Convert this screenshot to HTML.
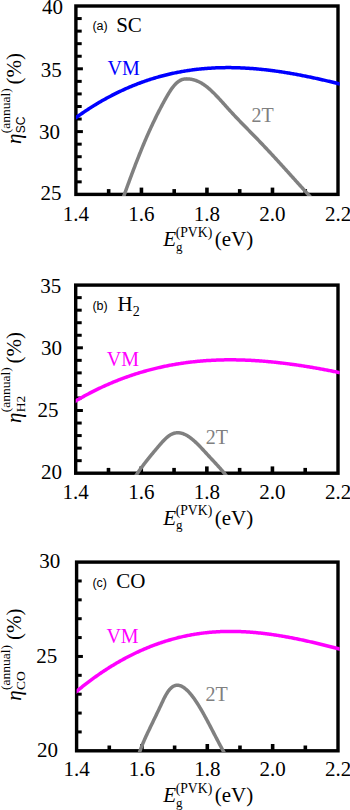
<!DOCTYPE html>
<html><head><meta charset="utf-8"><style>
html,body{margin:0;padding:0;background:#fff;width:350px;height:810px;overflow:hidden;}
svg{display:block;font-family:"Liberation Serif", serif;}
</style></head><body>
<svg width="350" height="810" viewBox="0 0 350 810">
<clipPath id="clipa"><rect x="75.90" y="4.30" width="263.80" height="191.80"/></clipPath>
<line x1="75.90" y1="181.84" x2="81.70" y2="181.84" stroke="#000" stroke-width="3.0"/>
<line x1="75.90" y1="169.28" x2="81.70" y2="169.28" stroke="#000" stroke-width="3.0"/>
<line x1="75.90" y1="156.72" x2="81.70" y2="156.72" stroke="#000" stroke-width="3.0"/>
<line x1="75.90" y1="144.16" x2="81.70" y2="144.16" stroke="#000" stroke-width="3.0"/>
<line x1="75.90" y1="131.60" x2="82.90" y2="131.60" stroke="#000" stroke-width="3.0"/>
<line x1="75.90" y1="119.04" x2="81.70" y2="119.04" stroke="#000" stroke-width="3.0"/>
<line x1="75.90" y1="106.48" x2="81.70" y2="106.48" stroke="#000" stroke-width="3.0"/>
<line x1="75.90" y1="93.92" x2="81.70" y2="93.92" stroke="#000" stroke-width="3.0"/>
<line x1="75.90" y1="81.36" x2="81.70" y2="81.36" stroke="#000" stroke-width="3.0"/>
<line x1="75.90" y1="68.80" x2="82.90" y2="68.80" stroke="#000" stroke-width="3.0"/>
<line x1="75.90" y1="56.24" x2="81.70" y2="56.24" stroke="#000" stroke-width="3.0"/>
<line x1="75.90" y1="43.68" x2="81.70" y2="43.68" stroke="#000" stroke-width="3.0"/>
<line x1="75.90" y1="31.12" x2="81.70" y2="31.12" stroke="#000" stroke-width="3.0"/>
<line x1="75.90" y1="18.56" x2="81.70" y2="18.56" stroke="#000" stroke-width="3.0"/>
<line x1="108.66" y1="194.40" x2="108.66" y2="189.10" stroke="#000" stroke-width="3.6"/>
<line x1="141.43" y1="194.40" x2="141.43" y2="187.60" stroke="#000" stroke-width="3.6"/>
<line x1="174.19" y1="194.40" x2="174.19" y2="189.10" stroke="#000" stroke-width="3.6"/>
<line x1="206.95" y1="194.40" x2="206.95" y2="187.60" stroke="#000" stroke-width="3.6"/>
<line x1="239.71" y1="194.40" x2="239.71" y2="189.10" stroke="#000" stroke-width="3.6"/>
<line x1="272.48" y1="194.40" x2="272.48" y2="187.60" stroke="#000" stroke-width="3.6"/>
<line x1="305.24" y1="194.40" x2="305.24" y2="189.10" stroke="#000" stroke-width="3.6"/>
<rect x="75.90" y="6.00" width="262.10" height="188.40" fill="none" stroke="#000" stroke-width="3.4"/>
<g clip-path="url(#clipa)" fill="none" stroke-width="3.5" stroke-linejoin="round">
<path d="M73.90,119.14 L74.90,118.41 L75.90,117.69 L76.90,116.97 L77.90,116.25 L78.90,115.54 L79.90,114.84 L80.90,114.14 L81.90,113.45 L82.90,112.77 L83.90,112.09 L84.90,111.42 L85.90,110.75 L86.90,110.09 L87.90,109.43 L88.90,108.78 L89.90,108.14 L90.90,107.50 L91.90,106.87 L92.90,106.24 L93.90,105.62 L94.90,105.01 L95.90,104.40 L96.90,103.80 L97.90,103.20 L98.90,102.61 L99.90,102.02 L100.90,101.44 L101.90,100.86 L102.90,100.29 L103.90,99.73 L104.90,99.17 L105.90,98.62 L106.90,98.07 L107.90,97.53 L108.90,96.99 L109.90,96.46 L110.90,95.93 L111.90,95.41 L112.90,94.90 L113.90,94.39 L114.90,93.89 L115.90,93.39 L116.90,92.89 L117.90,92.41 L118.90,91.92 L119.90,91.45 L120.90,90.97 L121.90,90.51 L122.90,90.05 L123.90,89.59 L124.90,89.14 L125.90,88.69 L126.90,88.25 L127.90,87.82 L128.90,87.39 L129.90,86.96 L130.90,86.54 L131.90,86.13 L132.90,85.72 L133.90,85.31 L134.90,84.91 L135.90,84.52 L136.90,84.13 L137.90,83.74 L138.90,83.36 L139.90,82.99 L140.90,82.62 L141.90,82.26 L142.90,81.90 L143.90,81.54 L144.90,81.19 L145.90,80.85 L146.90,80.51 L147.90,80.17 L148.90,79.84 L149.90,79.52 L150.90,79.19 L151.90,78.88 L152.90,78.57 L153.90,78.26 L154.90,77.96 L155.90,77.66 L156.90,77.37 L157.90,77.08 L158.90,76.80 L159.90,76.52 L160.90,76.25 L161.90,75.98 L162.90,75.71 L163.90,75.46 L164.90,75.20 L165.90,74.95 L166.90,74.70 L167.90,74.46 L168.90,74.22 L169.90,73.99 L170.90,73.76 L171.90,73.54 L172.90,73.32 L173.90,73.11 L174.90,72.90 L175.90,72.69 L176.90,72.49 L177.90,72.29 L178.90,72.10 L179.90,71.91 L180.90,71.73 L181.90,71.55 L182.90,71.37 L183.90,71.20 L184.90,71.03 L185.90,70.87 L186.90,70.71 L187.90,70.56 L188.90,70.41 L189.90,70.26 L190.90,70.12 L191.90,69.98 L192.90,69.85 L193.90,69.72 L194.90,69.59 L195.90,69.47 L196.90,69.36 L197.90,69.24 L198.90,69.13 L199.90,69.03 L200.90,68.93 L201.90,68.83 L202.90,68.74 L203.90,68.65 L204.90,68.56 L205.90,68.48 L206.90,68.40 L207.90,68.33 L208.90,68.26 L209.90,68.19 L210.90,68.13 L211.90,68.07 L212.90,68.01 L213.90,67.96 L214.90,67.91 L215.90,67.87 L216.90,67.83 L217.90,67.79 L218.90,67.76 L219.90,67.73 L220.90,67.70 L221.90,67.68 L222.90,67.66 L223.90,67.64 L224.90,67.63 L225.90,67.62 L226.90,67.61 L227.90,67.61 L228.90,67.61 L229.90,67.62 L230.90,67.62 L231.90,67.63 L232.90,67.65 L233.90,67.67 L234.90,67.69 L235.90,67.71 L236.90,67.74 L237.90,67.77 L238.90,67.80 L239.90,67.84 L240.90,67.88 L241.90,67.92 L242.90,67.97 L243.90,68.02 L244.90,68.07 L245.90,68.13 L246.90,68.19 L247.90,68.25 L248.90,68.31 L249.90,68.38 L250.90,68.45 L251.90,68.52 L252.90,68.60 L253.90,68.68 L254.90,68.76 L255.90,68.85 L256.90,68.93 L257.90,69.02 L258.90,69.12 L259.90,69.21 L260.90,69.31 L261.90,69.41 L262.90,69.52 L263.90,69.62 L264.90,69.73 L265.90,69.85 L266.90,69.96 L267.90,70.08 L268.90,70.20 L269.90,70.32 L270.90,70.44 L271.90,70.57 L272.90,70.70 L273.90,70.83 L274.90,70.97 L275.90,71.11 L276.90,71.25 L277.90,71.39 L278.90,71.53 L279.90,71.68 L280.90,71.83 L281.90,71.98 L282.90,72.13 L283.90,72.29 L284.90,72.45 L285.90,72.61 L286.90,72.77 L287.90,72.94 L288.90,73.10 L289.90,73.27 L290.90,73.44 L291.90,73.62 L292.90,73.79 L293.90,73.97 L294.90,74.15 L295.90,74.33 L296.90,74.52 L297.90,74.70 L298.90,74.89 L299.90,75.08 L300.90,75.27 L301.90,75.46 L302.90,75.66 L303.90,75.86 L304.90,76.06 L305.90,76.26 L306.90,76.46 L307.90,76.66 L308.90,76.87 L309.90,77.08 L310.90,77.29 L311.90,77.50 L312.90,77.71 L313.90,77.93 L314.90,78.14 L315.90,78.36 L316.90,78.58 L317.90,78.80 L318.90,79.02 L319.90,79.25 L320.90,79.48 L321.90,79.70 L322.90,79.93 L323.90,80.16 L324.90,80.39 L325.90,80.63 L326.90,80.86 L327.90,81.10 L328.90,81.33 L329.90,81.57 L330.90,81.81 L331.90,82.05 L332.90,82.30 L333.90,82.54 L334.90,82.78 L335.90,83.03 L336.90,83.28 L337.90,83.53 L338.90,83.78 L339.90,84.03 L340.90,84.28 L341.00,84.30" stroke="#0000ff"/>
<path d="M122.30,200.28 L122.80,198.88 L123.30,197.48 L123.80,196.08 L124.30,194.68 L124.80,193.29 L125.30,191.91 L125.80,190.52 L126.30,189.14 L126.80,187.76 L127.30,186.39 L127.80,185.02 L128.30,183.65 L128.80,182.29 L129.30,180.93 L129.80,179.57 L130.30,178.22 L130.80,176.88 L131.30,175.54 L131.80,174.20 L132.30,172.87 L132.80,171.54 L133.30,170.22 L133.80,168.90 L134.30,167.59 L134.80,166.28 L135.30,164.98 L135.80,163.68 L136.30,162.39 L136.80,161.10 L137.30,159.83 L137.80,158.55 L138.30,157.29 L138.80,156.02 L139.30,154.77 L139.80,153.52 L140.30,152.28 L140.80,151.04 L141.30,149.81 L141.80,148.59 L142.30,147.38 L142.80,146.17 L143.30,144.97 L143.80,143.78 L144.30,142.59 L144.80,141.41 L145.30,140.24 L145.80,139.08 L146.30,137.92 L146.80,136.77 L147.30,135.63 L147.80,134.50 L148.30,133.38 L148.80,132.26 L149.30,131.15 L149.80,130.04 L150.30,128.95 L150.80,127.86 L151.30,126.78 L151.80,125.70 L152.30,124.64 L152.80,123.58 L153.30,122.52 L153.80,121.48 L154.30,120.44 L154.80,119.40 L155.30,118.38 L155.80,117.36 L156.30,116.34 L156.80,115.34 L157.30,114.34 L157.80,113.35 L158.30,112.36 L158.80,111.38 L159.30,110.41 L159.80,109.44 L160.30,108.48 L160.80,107.52 L161.30,106.57 L161.80,105.63 L162.30,104.69 L162.80,103.76 L163.30,102.84 L163.80,101.92 L164.30,101.01 L164.80,100.10 L165.30,99.20 L165.80,98.31 L166.30,97.42 L166.80,96.55 L167.30,95.68 L167.80,94.83 L168.30,93.99 L168.80,93.16 L169.30,92.36 L169.80,91.56 L170.30,90.79 L170.80,90.04 L171.30,89.30 L171.80,88.59 L172.30,87.90 L172.80,87.24 L173.30,86.60 L173.80,85.99 L174.30,85.40 L174.80,84.84 L175.30,84.30 L175.80,83.79 L176.30,83.31 L176.80,82.85 L177.30,82.41 L177.80,82.00 L178.30,81.62 L178.80,81.27 L179.30,80.94 L179.80,80.63 L180.30,80.36 L180.80,80.11 L181.30,79.88 L181.80,79.68 L182.30,79.51 L182.80,79.36 L183.30,79.24 L183.80,79.13 L184.30,79.05 L184.80,78.98 L185.30,78.93 L185.80,78.90 L186.30,78.88 L186.80,78.87 L187.30,78.88 L187.80,78.90 L188.30,78.93 L188.80,78.96 L189.30,79.01 L189.80,79.07 L190.30,79.13 L190.80,79.21 L191.30,79.29 L191.80,79.39 L192.30,79.49 L192.80,79.61 L193.30,79.73 L193.80,79.86 L194.30,80.01 L194.80,80.16 L195.30,80.32 L195.80,80.50 L196.30,80.68 L196.80,80.87 L197.30,81.08 L197.80,81.29 L198.30,81.51 L198.80,81.74 L199.30,81.99 L199.80,82.24 L200.30,82.50 L200.80,82.77 L201.30,83.05 L201.80,83.35 L202.30,83.65 L202.80,83.96 L203.30,84.28 L203.80,84.62 L204.30,84.96 L204.80,85.31 L205.30,85.68 L205.80,86.05 L206.30,86.43 L206.80,86.82 L207.30,87.22 L207.80,87.63 L208.30,88.05 L208.80,88.47 L209.30,88.91 L209.80,89.35 L210.30,89.80 L210.80,90.25 L211.30,90.71 L211.80,91.18 L212.30,91.66 L212.80,92.14 L213.30,92.63 L213.80,93.12 L214.30,93.62 L214.80,94.13 L215.30,94.64 L215.80,95.15 L216.30,95.67 L216.80,96.19 L217.30,96.72 L217.80,97.25 L218.30,97.79 L218.80,98.33 L219.30,98.87 L219.80,99.41 L220.30,99.96 L220.80,100.51 L221.30,101.06 L221.80,101.61 L222.30,102.16 L222.80,102.72 L223.30,103.28 L223.80,103.83 L224.30,104.39 L224.80,104.95 L225.30,105.51 L225.80,106.07 L226.30,106.63 L226.80,107.19 L227.30,107.74 L227.80,108.30 L228.30,108.85 L228.80,109.41 L229.30,109.96 L229.80,110.51 L230.30,111.06 L230.80,111.60 L231.30,112.14 L231.80,112.69 L232.30,113.23 L232.80,113.76 L233.30,114.30 L233.80,114.84 L234.30,115.37 L234.80,115.90 L235.30,116.43 L235.80,116.96 L236.30,117.49 L236.80,118.01 L237.30,118.54 L237.80,119.06 L238.30,119.58 L238.80,120.11 L239.30,120.63 L239.80,121.15 L240.30,121.66 L240.80,122.18 L241.30,122.70 L241.80,123.21 L242.30,123.73 L242.80,124.24 L243.30,124.76 L243.80,125.27 L244.30,125.78 L244.80,126.29 L245.30,126.80 L245.80,127.32 L246.30,127.83 L246.80,128.34 L247.30,128.85 L247.80,129.36 L248.30,129.87 L248.80,130.38 L249.30,130.89 L249.80,131.40 L250.30,131.91 L250.80,132.42 L251.30,132.93 L251.80,133.44 L252.30,133.95 L252.80,134.46 L253.30,134.97 L253.80,135.48 L254.30,135.99 L254.80,136.50 L255.30,137.02 L255.80,137.53 L256.30,138.05 L256.80,138.56 L257.30,139.08 L257.80,139.59 L258.30,140.11 L258.80,140.63 L259.30,141.15 L259.80,141.67 L260.30,142.19 L260.80,142.71 L261.30,143.24 L261.80,143.76 L262.30,144.29 L262.80,144.81 L263.30,145.34 L263.80,145.87 L264.30,146.40 L264.80,146.93 L265.30,147.46 L265.80,147.99 L266.30,148.52 L266.80,149.05 L267.30,149.59 L267.80,150.12 L268.30,150.65 L268.80,151.19 L269.30,151.73 L269.80,152.26 L270.30,152.80 L270.80,153.34 L271.30,153.88 L271.80,154.42 L272.30,154.96 L272.80,155.50 L273.30,156.04 L273.80,156.58 L274.30,157.12 L274.80,157.67 L275.30,158.21 L275.80,158.75 L276.30,159.30 L276.80,159.84 L277.30,160.39 L277.80,160.94 L278.30,161.48 L278.80,162.03 L279.30,162.58 L279.80,163.12 L280.30,163.67 L280.80,164.22 L281.30,164.77 L281.80,165.32 L282.30,165.87 L282.80,166.42 L283.30,166.97 L283.80,167.52 L284.30,168.07 L284.80,168.62 L285.30,169.17 L285.80,169.73 L286.30,170.28 L286.80,170.83 L287.30,171.38 L287.80,171.94 L288.30,172.49 L288.80,173.04 L289.30,173.59 L289.80,174.15 L290.30,174.70 L290.80,175.26 L291.30,175.81 L291.80,176.36 L292.30,176.92 L292.80,177.47 L293.30,178.03 L293.80,178.58 L294.30,179.13 L294.80,179.69 L295.30,180.24 L295.80,180.80 L296.30,181.35 L296.80,181.91 L297.30,182.46 L297.80,183.01 L298.30,183.57 L298.80,184.12 L299.30,184.68 L299.80,185.23 L300.30,185.78 L300.80,186.34 L301.30,186.89 L301.80,187.44 L302.30,188.00 L302.80,188.55 L303.30,189.10 L303.80,189.66 L304.30,190.21 L304.80,190.76 L305.30,191.31 L305.80,191.86 L306.30,192.41 L306.80,192.97 L307.30,193.52 L307.80,194.07 L308.30,194.62 L308.80,195.17 L309.30,195.72 L309.80,196.26 L310.30,196.81 L310.80,197.36" stroke="#808080"/>
</g>
<text x="63.00" y="14.00" text-anchor="end" font-family='"Liberation Serif", serif' font-size="21">40</text>
<text x="61.70" y="76.60" text-anchor="end" font-family='"Liberation Serif", serif' font-size="21">35</text>
<text x="59.90" y="139.00" text-anchor="end" font-family='"Liberation Serif", serif' font-size="21">30</text>
<text x="61.60" y="200.00" text-anchor="end" font-family='"Liberation Serif", serif' font-size="21">25</text>
<text x="75.90" y="220.60" text-anchor="middle" font-family='"Liberation Serif", serif' font-size="21">1.4</text>
<text x="141.43" y="220.60" text-anchor="middle" font-family='"Liberation Serif", serif' font-size="21">1.6</text>
<text x="206.95" y="220.60" text-anchor="middle" font-family='"Liberation Serif", serif' font-size="21">1.8</text>
<text x="272.48" y="220.60" text-anchor="middle" font-family='"Liberation Serif", serif' font-size="21">2.0</text>
<text x="338.00" y="220.60" text-anchor="middle" font-family='"Liberation Serif", serif' font-size="21">2.2</text>
<text x="163.3" y="246.30" font-family='"Liberation Serif", serif' font-size="21" font-style="italic">E</text>
<text x="175.9" y="250.70" font-family='"Liberation Serif", serif' font-size="13">g</text>
<text x="175.7" y="236.90" font-family='"Liberation Serif", serif' font-size="13.7">(PVK)</text>
<text x="214.8" y="246.30" font-family='"Liberation Serif", serif' font-size="21">(eV)</text>
<text x="92.4" y="30.40" font-family='"Liberation Sans", sans-serif' font-size="12.5">(a)</text>
<text x="116.2" y="32.30" font-family='"Liberation Serif", serif' font-size="21">SC</text>
<text x="107.60" y="75.40" font-family='"Liberation Serif", serif' font-size="20" fill="#0000ff">VM</text>
<text x="251.60" y="122.10" font-family='"Liberation Serif", serif' font-size="20" fill="#808080">2T</text>
<g transform="rotate(-90)">
<text x="-144.00" y="20.70" font-family='"Liberation Serif", serif' font-size="21" font-style="italic">&#951;</text>
<text x="-133.20" y="24.70" font-family='"Liberation Sans", sans-serif' font-size="12.0">SC</text>
<text x="-133.20" y="9.70" font-family='"Liberation Serif", serif' font-size="13.5">(annual)</text>
<text x="-84.50" y="20.70" font-family='"Liberation Serif", serif' font-size="21">(%)</text>
</g>
<clipPath id="clipb"><rect x="75.70" y="283.40" width="264.00" height="191.50"/></clipPath>
<line x1="75.70" y1="460.66" x2="81.70" y2="460.66" stroke="#000" stroke-width="3.0"/>
<line x1="75.70" y1="448.12" x2="81.70" y2="448.12" stroke="#000" stroke-width="3.0"/>
<line x1="75.70" y1="435.58" x2="81.70" y2="435.58" stroke="#000" stroke-width="3.0"/>
<line x1="75.70" y1="423.04" x2="81.70" y2="423.04" stroke="#000" stroke-width="3.0"/>
<line x1="75.70" y1="410.50" x2="82.90" y2="410.50" stroke="#000" stroke-width="3.0"/>
<line x1="75.70" y1="397.96" x2="81.70" y2="397.96" stroke="#000" stroke-width="3.0"/>
<line x1="75.70" y1="385.42" x2="81.70" y2="385.42" stroke="#000" stroke-width="3.0"/>
<line x1="75.70" y1="372.88" x2="81.70" y2="372.88" stroke="#000" stroke-width="3.0"/>
<line x1="75.70" y1="360.34" x2="81.70" y2="360.34" stroke="#000" stroke-width="3.0"/>
<line x1="75.70" y1="347.80" x2="82.90" y2="347.80" stroke="#000" stroke-width="3.0"/>
<line x1="75.70" y1="335.26" x2="81.70" y2="335.26" stroke="#000" stroke-width="3.0"/>
<line x1="75.70" y1="322.72" x2="81.70" y2="322.72" stroke="#000" stroke-width="3.0"/>
<line x1="75.70" y1="310.18" x2="81.70" y2="310.18" stroke="#000" stroke-width="3.0"/>
<line x1="75.70" y1="297.64" x2="81.70" y2="297.64" stroke="#000" stroke-width="3.0"/>
<line x1="108.49" y1="473.20" x2="108.49" y2="467.90" stroke="#000" stroke-width="3.6"/>
<line x1="141.27" y1="473.20" x2="141.27" y2="466.40" stroke="#000" stroke-width="3.6"/>
<line x1="174.06" y1="473.20" x2="174.06" y2="467.90" stroke="#000" stroke-width="3.6"/>
<line x1="206.85" y1="473.20" x2="206.85" y2="466.40" stroke="#000" stroke-width="3.6"/>
<line x1="239.64" y1="473.20" x2="239.64" y2="467.90" stroke="#000" stroke-width="3.6"/>
<line x1="272.43" y1="473.20" x2="272.43" y2="466.40" stroke="#000" stroke-width="3.6"/>
<line x1="305.21" y1="473.20" x2="305.21" y2="467.90" stroke="#000" stroke-width="3.6"/>
<rect x="75.70" y="285.10" width="262.30" height="188.10" fill="none" stroke="#000" stroke-width="3.4"/>
<g clip-path="url(#clipb)" fill="none" stroke-width="3.5" stroke-linejoin="round">
<path d="M73.70,402.12 L74.70,401.52 L75.70,400.93 L76.70,400.35 L77.70,399.76 L78.70,399.19 L79.70,398.62 L80.70,398.05 L81.70,397.49 L82.70,396.93 L83.70,396.38 L84.70,395.83 L85.70,395.29 L86.70,394.75 L87.70,394.22 L88.70,393.69 L89.70,393.17 L90.70,392.65 L91.70,392.13 L92.70,391.62 L93.70,391.12 L94.70,390.62 L95.70,390.12 L96.70,389.63 L97.70,389.15 L98.70,388.66 L99.70,388.19 L100.70,387.72 L101.70,387.25 L102.70,386.78 L103.70,386.33 L104.70,385.87 L105.70,385.42 L106.70,384.98 L107.70,384.53 L108.70,384.10 L109.70,383.67 L110.70,383.24 L111.70,382.82 L112.70,382.40 L113.70,381.98 L114.70,381.57 L115.70,381.17 L116.70,380.77 L117.70,380.37 L118.70,379.98 L119.70,379.59 L120.70,379.20 L121.70,378.83 L122.70,378.45 L123.70,378.08 L124.70,377.71 L125.70,377.35 L126.70,376.99 L127.70,376.64 L128.70,376.29 L129.70,375.94 L130.70,375.60 L131.70,375.26 L132.70,374.93 L133.70,374.60 L134.70,374.27 L135.70,373.95 L136.70,373.63 L137.70,373.32 L138.70,373.01 L139.70,372.70 L140.70,372.40 L141.70,372.11 L142.70,371.81 L143.70,371.52 L144.70,371.24 L145.70,370.96 L146.70,370.68 L147.70,370.40 L148.70,370.13 L149.70,369.87 L150.70,369.61 L151.70,369.35 L152.70,369.09 L153.70,368.84 L154.70,368.60 L155.70,368.35 L156.70,368.11 L157.70,367.88 L158.70,367.65 L159.70,367.42 L160.70,367.19 L161.70,366.97 L162.70,366.76 L163.70,366.54 L164.70,366.33 L165.70,366.13 L166.70,365.92 L167.70,365.73 L168.70,365.53 L169.70,365.34 L170.70,365.15 L171.70,364.97 L172.70,364.78 L173.70,364.61 L174.70,364.43 L175.70,364.26 L176.70,364.09 L177.70,363.93 L178.70,363.77 L179.70,363.61 L180.70,363.46 L181.70,363.31 L182.70,363.16 L183.70,363.02 L184.70,362.88 L185.70,362.74 L186.70,362.61 L187.70,362.48 L188.70,362.36 L189.70,362.23 L190.70,362.11 L191.70,362.00 L192.70,361.88 L193.70,361.77 L194.70,361.66 L195.70,361.56 L196.70,361.46 L197.70,361.36 L198.70,361.27 L199.70,361.18 L200.70,361.09 L201.70,361.00 L202.70,360.92 L203.70,360.84 L204.70,360.77 L205.70,360.69 L206.70,360.62 L207.70,360.56 L208.70,360.49 L209.70,360.43 L210.70,360.38 L211.70,360.32 L212.70,360.27 L213.70,360.22 L214.70,360.18 L215.70,360.13 L216.70,360.09 L217.70,360.06 L218.70,360.02 L219.70,359.99 L220.70,359.96 L221.70,359.94 L222.70,359.91 L223.70,359.89 L224.70,359.87 L225.70,359.86 L226.70,359.85 L227.70,359.84 L228.70,359.83 L229.70,359.83 L230.70,359.83 L231.70,359.83 L232.70,359.83 L233.70,359.84 L234.70,359.85 L235.70,359.86 L236.70,359.88 L237.70,359.89 L238.70,359.91 L239.70,359.94 L240.70,359.96 L241.70,359.99 L242.70,360.02 L243.70,360.05 L244.70,360.09 L245.70,360.13 L246.70,360.17 L247.70,360.21 L248.70,360.25 L249.70,360.30 L250.70,360.35 L251.70,360.40 L252.70,360.46 L253.70,360.51 L254.70,360.57 L255.70,360.63 L256.70,360.70 L257.70,360.76 L258.70,360.83 L259.70,360.90 L260.70,360.98 L261.70,361.05 L262.70,361.13 L263.70,361.21 L264.70,361.29 L265.70,361.38 L266.70,361.46 L267.70,361.55 L268.70,361.64 L269.70,361.73 L270.70,361.83 L271.70,361.92 L272.70,362.02 L273.70,362.12 L274.70,362.23 L275.70,362.33 L276.70,362.44 L277.70,362.55 L278.70,362.66 L279.70,362.77 L280.70,362.89 L281.70,363.01 L282.70,363.12 L283.70,363.25 L284.70,363.37 L285.70,363.49 L286.70,363.62 L287.70,363.75 L288.70,363.88 L289.70,364.01 L290.70,364.14 L291.70,364.28 L292.70,364.42 L293.70,364.56 L294.70,364.70 L295.70,364.84 L296.70,364.99 L297.70,365.13 L298.70,365.28 L299.70,365.43 L300.70,365.58 L301.70,365.73 L302.70,365.89 L303.70,366.04 L304.70,366.20 L305.70,366.36 L306.70,366.52 L307.70,366.69 L308.70,366.85 L309.70,367.02 L310.70,367.18 L311.70,367.35 L312.70,367.52 L313.70,367.69 L314.70,367.87 L315.70,368.04 L316.70,368.22 L317.70,368.40 L318.70,368.58 L319.70,368.76 L320.70,368.94 L321.70,369.12 L322.70,369.31 L323.70,369.49 L324.70,369.68 L325.70,369.87 L326.70,370.06 L327.70,370.25 L328.70,370.44 L329.70,370.64 L330.70,370.83 L331.70,371.03 L332.70,371.22 L333.70,371.42 L334.70,371.62 L335.70,371.82 L336.70,372.03 L337.70,372.23 L338.70,372.43 L339.70,372.64 L340.70,372.85 L341.00,372.91" stroke="#ff00ff"/>
<path d="M135.00,476.99 L135.50,476.21 L136.00,475.45 L136.50,474.70 L137.00,473.95 L137.50,473.21 L138.00,472.48 L138.50,471.75 L139.00,471.03 L139.50,470.32 L140.00,469.61 L140.50,468.91 L141.00,468.22 L141.50,467.53 L142.00,466.85 L142.50,466.17 L143.00,465.50 L143.50,464.83 L144.00,464.17 L144.50,463.51 L145.00,462.86 L145.50,462.22 L146.00,461.57 L146.50,460.93 L147.00,460.30 L147.50,459.67 L148.00,459.04 L148.50,458.42 L149.00,457.80 L149.50,457.18 L150.00,456.56 L150.50,455.95 L151.00,455.34 L151.50,454.73 L152.00,454.13 L152.50,453.53 L153.00,452.92 L153.50,452.33 L154.00,451.73 L154.50,451.13 L155.00,450.53 L155.50,449.94 L156.00,449.35 L156.50,448.75 L157.00,448.16 L157.50,447.57 L158.00,446.98 L158.50,446.39 L159.00,445.80 L159.50,445.21 L160.00,444.63 L160.50,444.05 L161.00,443.48 L161.50,442.91 L162.00,442.35 L162.50,441.80 L163.00,441.26 L163.50,440.73 L164.00,440.21 L164.50,439.70 L165.00,439.21 L165.50,438.72 L166.00,438.25 L166.50,437.80 L167.00,437.36 L167.50,436.94 L168.00,436.54 L168.50,436.15 L169.00,435.79 L169.50,435.44 L170.00,435.12 L170.50,434.81 L171.00,434.53 L171.50,434.28 L172.00,434.04 L172.50,433.82 L173.00,433.63 L173.50,433.45 L174.00,433.30 L174.50,433.16 L175.00,433.05 L175.50,432.95 L176.00,432.87 L176.50,432.82 L177.00,432.78 L177.50,432.76 L178.00,432.76 L178.50,432.77 L179.00,432.81 L179.50,432.86 L180.00,432.93 L180.50,433.01 L181.00,433.12 L181.50,433.24 L182.00,433.37 L182.50,433.52 L183.00,433.69 L183.50,433.88 L184.00,434.07 L184.50,434.29 L185.00,434.51 L185.50,434.76 L186.00,435.01 L186.50,435.28 L187.00,435.57 L187.50,435.87 L188.00,436.18 L188.50,436.50 L189.00,436.83 L189.50,437.18 L190.00,437.54 L190.50,437.91 L191.00,438.29 L191.50,438.68 L192.00,439.08 L192.50,439.49 L193.00,439.91 L193.50,440.34 L194.00,440.77 L194.50,441.22 L195.00,441.67 L195.50,442.14 L196.00,442.60 L196.50,443.08 L197.00,443.56 L197.50,444.05 L198.00,444.55 L198.50,445.05 L199.00,445.55 L199.50,446.06 L200.00,446.58 L200.50,447.10 L201.00,447.62 L201.50,448.15 L202.00,448.68 L202.50,449.22 L203.00,449.75 L203.50,450.29 L204.00,450.83 L204.50,451.37 L205.00,451.92 L205.50,452.46 L206.00,453.01 L206.50,453.55 L207.00,454.10 L207.50,454.64 L208.00,455.19 L208.50,455.73 L209.00,456.27 L209.50,456.81 L210.00,457.35 L210.50,457.88 L211.00,458.42 L211.50,458.95 L212.00,459.49 L212.50,460.02 L213.00,460.56 L213.50,461.09 L214.00,461.63 L214.50,462.17 L215.00,462.70 L215.50,463.24 L216.00,463.78 L216.50,464.32 L217.00,464.87 L217.50,465.42 L218.00,465.96 L218.50,466.52 L219.00,467.07 L219.50,467.63 L220.00,468.19 L220.50,468.76 L221.00,469.33 L221.50,469.90 L222.00,470.48 L222.50,471.07 L223.00,471.66 L223.50,472.25 L224.00,472.85 L224.50,473.46 L225.00,474.07 L225.50,474.69 L226.00,475.31 L226.50,475.95 L227.00,476.59 L227.10,476.71" stroke="#808080"/>
</g>
<text x="61.30" y="293.30" text-anchor="end" font-family='"Liberation Serif", serif' font-size="21">35</text>
<text x="62.10" y="355.20" text-anchor="end" font-family='"Liberation Serif", serif' font-size="21">30</text>
<text x="58.50" y="417.40" text-anchor="end" font-family='"Liberation Serif", serif' font-size="21">25</text>
<text x="61.90" y="479.30" text-anchor="end" font-family='"Liberation Serif", serif' font-size="21">20</text>
<text x="75.70" y="499.30" text-anchor="middle" font-family='"Liberation Serif", serif' font-size="21">1.4</text>
<text x="141.27" y="499.30" text-anchor="middle" font-family='"Liberation Serif", serif' font-size="21">1.6</text>
<text x="206.85" y="499.30" text-anchor="middle" font-family='"Liberation Serif", serif' font-size="21">1.8</text>
<text x="272.43" y="499.30" text-anchor="middle" font-family='"Liberation Serif", serif' font-size="21">2.0</text>
<text x="338.00" y="499.30" text-anchor="middle" font-family='"Liberation Serif", serif' font-size="21">2.2</text>
<text x="163.3" y="524.80" font-family='"Liberation Serif", serif' font-size="21" font-style="italic">E</text>
<text x="175.9" y="529.20" font-family='"Liberation Serif", serif' font-size="13">g</text>
<text x="175.7" y="515.40" font-family='"Liberation Serif", serif' font-size="13.7">(PVK)</text>
<text x="214.8" y="524.80" font-family='"Liberation Serif", serif' font-size="21">(eV)</text>
<text x="92.4" y="309.50" font-family='"Liberation Sans", sans-serif' font-size="12.5">(b)</text>
<text x="117.6" y="311.40" font-family='"Liberation Serif", serif' font-size="21">H<tspan font-size="14" dy="4.3">2</tspan></text>
<text x="106.70" y="365.70" font-family='"Liberation Serif", serif' font-size="20" fill="#ff00ff">VM</text>
<text x="205.80" y="443.80" font-family='"Liberation Serif", serif' font-size="20" fill="#808080">2T</text>
<g transform="rotate(-90)">
<text x="-423.00" y="20.70" font-family='"Liberation Serif", serif' font-size="21" font-style="italic">&#951;</text>
<text x="-412.20" y="24.70" font-family='"Liberation Serif", serif' font-size="13.5">H2</text>
<text x="-412.20" y="9.70" font-family='"Liberation Serif", serif' font-size="13.5">(annual)</text>
<text x="-363.40" y="20.70" font-family='"Liberation Serif", serif' font-size="21">(%)</text>
</g>
<clipPath id="clipc"><rect x="76.60" y="560.40" width="263.10" height="192.10"/></clipPath>
<line x1="76.60" y1="731.93" x2="81.70" y2="731.93" stroke="#000" stroke-width="3.0"/>
<line x1="76.60" y1="713.06" x2="81.70" y2="713.06" stroke="#000" stroke-width="3.0"/>
<line x1="76.60" y1="694.19" x2="81.70" y2="694.19" stroke="#000" stroke-width="3.0"/>
<line x1="76.60" y1="675.32" x2="81.70" y2="675.32" stroke="#000" stroke-width="3.0"/>
<line x1="76.60" y1="656.45" x2="82.90" y2="656.45" stroke="#000" stroke-width="3.0"/>
<line x1="76.60" y1="637.58" x2="81.70" y2="637.58" stroke="#000" stroke-width="3.0"/>
<line x1="76.60" y1="618.71" x2="81.70" y2="618.71" stroke="#000" stroke-width="3.0"/>
<line x1="76.60" y1="599.84" x2="81.70" y2="599.84" stroke="#000" stroke-width="3.0"/>
<line x1="76.60" y1="580.97" x2="81.70" y2="580.97" stroke="#000" stroke-width="3.0"/>
<line x1="109.28" y1="750.80" x2="109.28" y2="745.50" stroke="#000" stroke-width="3.6"/>
<line x1="141.95" y1="750.80" x2="141.95" y2="744.00" stroke="#000" stroke-width="3.6"/>
<line x1="174.62" y1="750.80" x2="174.62" y2="745.50" stroke="#000" stroke-width="3.6"/>
<line x1="207.30" y1="750.80" x2="207.30" y2="744.00" stroke="#000" stroke-width="3.6"/>
<line x1="239.97" y1="750.80" x2="239.97" y2="745.50" stroke="#000" stroke-width="3.6"/>
<line x1="272.65" y1="750.80" x2="272.65" y2="744.00" stroke="#000" stroke-width="3.6"/>
<line x1="305.33" y1="750.80" x2="305.33" y2="745.50" stroke="#000" stroke-width="3.6"/>
<rect x="76.60" y="562.10" width="261.40" height="188.70" fill="none" stroke="#000" stroke-width="3.4"/>
<g clip-path="url(#clipc)" fill="none" stroke-width="3.5" stroke-linejoin="round">
<path d="M74.60,693.03 L75.60,692.19 L76.60,691.35 L77.60,690.53 L78.60,689.71 L79.60,688.89 L80.60,688.09 L81.60,687.28 L82.60,686.49 L83.60,685.70 L84.60,684.92 L85.60,684.14 L86.60,683.37 L87.60,682.61 L88.60,681.85 L89.60,681.10 L90.60,680.35 L91.60,679.61 L92.60,678.88 L93.60,678.15 L94.60,677.43 L95.60,676.72 L96.60,676.01 L97.60,675.31 L98.60,674.61 L99.60,673.92 L100.60,673.24 L101.60,672.56 L102.60,671.89 L103.60,671.22 L104.60,670.56 L105.60,669.91 L106.60,669.26 L107.60,668.62 L108.60,667.98 L109.60,667.35 L110.60,666.73 L111.60,666.11 L112.60,665.50 L113.60,664.89 L114.60,664.29 L115.60,663.69 L116.60,663.10 L117.60,662.52 L118.60,661.94 L119.60,661.37 L120.60,660.81 L121.60,660.25 L122.60,659.69 L123.60,659.15 L124.60,658.60 L125.60,658.07 L126.60,657.54 L127.60,657.01 L128.60,656.49 L129.60,655.98 L130.60,655.47 L131.60,654.97 L132.60,654.47 L133.60,653.98 L134.60,653.50 L135.60,653.02 L136.60,652.54 L137.60,652.08 L138.60,651.61 L139.60,651.16 L140.60,650.70 L141.60,650.26 L142.60,649.82 L143.60,649.38 L144.60,648.95 L145.60,648.53 L146.60,648.11 L147.60,647.70 L148.60,647.29 L149.60,646.89 L150.60,646.49 L151.60,646.10 L152.60,645.72 L153.60,645.34 L154.60,644.96 L155.60,644.59 L156.60,644.23 L157.60,643.87 L158.60,643.52 L159.60,643.17 L160.60,642.83 L161.60,642.49 L162.60,642.16 L163.60,641.83 L164.60,641.51 L165.60,641.20 L166.60,640.89 L167.60,640.58 L168.60,640.28 L169.60,639.99 L170.60,639.70 L171.60,639.41 L172.60,639.13 L173.60,638.86 L174.60,638.59 L175.60,638.33 L176.60,638.07 L177.60,637.82 L178.60,637.57 L179.60,637.32 L180.60,637.09 L181.60,636.85 L182.60,636.63 L183.60,636.40 L184.60,636.19 L185.60,635.97 L186.60,635.77 L187.60,635.56 L188.60,635.37 L189.60,635.17 L190.60,634.98 L191.60,634.80 L192.60,634.62 L193.60,634.45 L194.60,634.28 L195.60,634.12 L196.60,633.96 L197.60,633.81 L198.60,633.66 L199.60,633.52 L200.60,633.38 L201.60,633.25 L202.60,633.12 L203.60,632.99 L204.60,632.87 L205.60,632.76 L206.60,632.65 L207.60,632.55 L208.60,632.45 L209.60,632.35 L210.60,632.26 L211.60,632.17 L212.60,632.09 L213.60,632.02 L214.60,631.95 L215.60,631.88 L216.60,631.82 L217.60,631.76 L218.60,631.70 L219.60,631.65 L220.60,631.61 L221.60,631.57 L222.60,631.53 L223.60,631.50 L224.60,631.48 L225.60,631.45 L226.60,631.43 L227.60,631.42 L228.60,631.41 L229.60,631.40 L230.60,631.40 L231.60,631.40 L232.60,631.41 L233.60,631.42 L234.60,631.43 L235.60,631.45 L236.60,631.47 L237.60,631.50 L238.60,631.53 L239.60,631.56 L240.60,631.60 L241.60,631.64 L242.60,631.69 L243.60,631.74 L244.60,631.79 L245.60,631.84 L246.60,631.90 L247.60,631.97 L248.60,632.03 L249.60,632.10 L250.60,632.18 L251.60,632.26 L252.60,632.34 L253.60,632.42 L254.60,632.51 L255.60,632.60 L256.60,632.69 L257.60,632.79 L258.60,632.89 L259.60,633.00 L260.60,633.10 L261.60,633.21 L262.60,633.33 L263.60,633.44 L264.60,633.56 L265.60,633.69 L266.60,633.81 L267.60,633.94 L268.60,634.07 L269.60,634.21 L270.60,634.34 L271.60,634.49 L272.60,634.63 L273.60,634.77 L274.60,634.92 L275.60,635.07 L276.60,635.23 L277.60,635.38 L278.60,635.54 L279.60,635.71 L280.60,635.87 L281.60,636.04 L282.60,636.21 L283.60,636.38 L284.60,636.55 L285.60,636.73 L286.60,636.91 L287.60,637.09 L288.60,637.28 L289.60,637.46 L290.60,637.65 L291.60,637.84 L292.60,638.03 L293.60,638.23 L294.60,638.43 L295.60,638.63 L296.60,638.83 L297.60,639.03 L298.60,639.24 L299.60,639.44 L300.60,639.65 L301.60,639.86 L302.60,640.08 L303.60,640.29 L304.60,640.51 L305.60,640.73 L306.60,640.95 L307.60,641.17 L308.60,641.39 L309.60,641.62 L310.60,641.85 L311.60,642.08 L312.60,642.31 L313.60,642.54 L314.60,642.77 L315.60,643.01 L316.60,643.24 L317.60,643.48 L318.60,643.72 L319.60,643.96 L320.60,644.20 L321.60,644.44 L322.60,644.69 L323.60,644.93 L324.60,645.18 L325.60,645.43 L326.60,645.68 L327.60,645.93 L328.60,646.18 L329.60,646.43 L330.60,646.68 L331.60,646.94 L332.60,647.19 L333.60,647.45 L334.60,647.71 L335.60,647.96 L336.60,648.22 L337.60,648.48 L338.60,648.74 L339.60,649.00 L340.60,649.26 L341.00,649.37" stroke="#ff00ff"/>
<path d="M137.90,756.97 L138.40,755.47 L138.90,754.00 L139.40,752.57 L139.90,751.17 L140.40,749.81 L140.90,748.48 L141.40,747.18 L141.90,745.91 L142.40,744.66 L142.90,743.44 L143.40,742.25 L143.90,741.08 L144.40,739.92 L144.90,738.79 L145.40,737.67 L145.90,736.57 L146.40,735.48 L146.90,734.41 L147.40,733.34 L147.90,732.29 L148.40,731.24 L148.90,730.20 L149.40,729.16 L149.90,728.12 L150.40,727.08 L150.90,726.04 L151.40,725.01 L151.90,723.97 L152.40,722.93 L152.90,721.90 L153.40,720.86 L153.90,719.82 L154.40,718.78 L154.90,717.74 L155.40,716.70 L155.90,715.66 L156.40,714.62 L156.90,713.57 L157.40,712.53 L157.90,711.48 L158.40,710.43 L158.90,709.38 L159.40,708.33 L159.90,707.27 L160.40,706.21 L160.90,705.15 L161.40,704.09 L161.90,703.02 L162.40,701.96 L162.90,700.90 L163.40,699.85 L163.90,698.82 L164.40,697.81 L164.90,696.83 L165.40,695.89 L165.90,694.99 L166.40,694.12 L166.90,693.29 L167.40,692.50 L167.90,691.75 L168.40,691.05 L168.90,690.38 L169.40,689.75 L169.90,689.17 L170.40,688.63 L170.90,688.14 L171.40,687.68 L171.90,687.27 L172.40,686.89 L172.90,686.56 L173.40,686.27 L173.90,686.01 L174.40,685.79 L174.90,685.61 L175.40,685.46 L175.90,685.35 L176.40,685.27 L176.90,685.22 L177.40,685.21 L177.90,685.23 L178.40,685.28 L178.90,685.36 L179.40,685.47 L179.90,685.61 L180.40,685.77 L180.90,685.97 L181.40,686.19 L181.90,686.43 L182.40,686.70 L182.90,687.00 L183.40,687.31 L183.90,687.65 L184.40,688.01 L184.90,688.39 L185.40,688.79 L185.90,689.22 L186.40,689.66 L186.90,690.12 L187.40,690.59 L187.90,691.09 L188.40,691.60 L188.90,692.13 L189.40,692.68 L189.90,693.25 L190.40,693.83 L190.90,694.43 L191.40,695.04 L191.90,695.67 L192.40,696.31 L192.90,696.97 L193.40,697.65 L193.90,698.33 L194.40,699.03 L194.90,699.75 L195.40,700.48 L195.90,701.22 L196.40,701.97 L196.90,702.73 L197.40,703.51 L197.90,704.29 L198.40,705.09 L198.90,705.90 L199.40,706.72 L199.90,707.55 L200.40,708.39 L200.90,709.23 L201.40,710.09 L201.90,710.96 L202.40,711.83 L202.90,712.71 L203.40,713.60 L203.90,714.49 L204.40,715.40 L204.90,716.30 L205.40,717.22 L205.90,718.14 L206.40,719.06 L206.90,720.00 L207.40,720.93 L207.90,721.87 L208.40,722.82 L208.90,723.76 L209.40,724.71 L209.90,725.67 L210.40,726.62 L210.90,727.58 L211.40,728.54 L211.90,729.51 L212.40,730.47 L212.90,731.43 L213.40,732.40 L213.90,733.36 L214.40,734.33 L214.90,735.29 L215.40,736.26 L215.90,737.22 L216.40,738.18 L216.90,739.14 L217.40,740.10 L217.90,741.05 L218.40,742.00 L218.90,742.95 L219.40,743.89 L219.90,744.84 L220.40,745.77 L220.90,746.70 L221.40,747.63 L221.90,748.55 L222.40,749.47 L222.90,750.38 L223.40,751.28 L223.90,752.18 L224.40,753.07 L224.90,753.95 L225.40,754.82 L225.60,755.17" stroke="#808080"/>
</g>
<text x="60.20" y="567.50" text-anchor="end" font-family='"Liberation Serif", serif' font-size="21">30</text>
<text x="57.30" y="663.40" text-anchor="end" font-family='"Liberation Serif", serif' font-size="21">25</text>
<text x="57.90" y="757.10" text-anchor="end" font-family='"Liberation Serif", serif' font-size="21">20</text>
<text x="76.60" y="776.40" text-anchor="middle" font-family='"Liberation Serif", serif' font-size="21">1.4</text>
<text x="141.95" y="776.40" text-anchor="middle" font-family='"Liberation Serif", serif' font-size="21">1.6</text>
<text x="207.30" y="776.40" text-anchor="middle" font-family='"Liberation Serif", serif' font-size="21">1.8</text>
<text x="272.65" y="776.40" text-anchor="middle" font-family='"Liberation Serif", serif' font-size="21">2.0</text>
<text x="338.00" y="776.40" text-anchor="middle" font-family='"Liberation Serif", serif' font-size="21">2.2</text>
<text x="163.3" y="802.10" font-family='"Liberation Serif", serif' font-size="21" font-style="italic">E</text>
<text x="175.9" y="806.50" font-family='"Liberation Serif", serif' font-size="13">g</text>
<text x="175.7" y="792.70" font-family='"Liberation Serif", serif' font-size="13.7">(PVK)</text>
<text x="214.8" y="802.10" font-family='"Liberation Serif", serif' font-size="21">(eV)</text>
<text x="92.4" y="586.50" font-family='"Liberation Sans", sans-serif' font-size="12.5">(c)</text>
<text x="116.2" y="588.40" font-family='"Liberation Serif", serif' font-size="21">CO</text>
<text x="106.40" y="642.80" font-family='"Liberation Serif", serif' font-size="20" fill="#ff00ff">VM</text>
<text x="205.40" y="701.20" font-family='"Liberation Serif", serif' font-size="20" fill="#808080">2T</text>
<g transform="rotate(-90)">
<text x="-700.80" y="20.70" font-family='"Liberation Serif", serif' font-size="21" font-style="italic">&#951;</text>
<text x="-690.00" y="24.70" font-family='"Liberation Serif", serif' font-size="13.5">CO</text>
<text x="-690.00" y="9.70" font-family='"Liberation Serif", serif' font-size="13.5">(annual)</text>
<text x="-639.90" y="20.70" font-family='"Liberation Serif", serif' font-size="21">(%)</text>
</g>
</svg>
</body></html>
